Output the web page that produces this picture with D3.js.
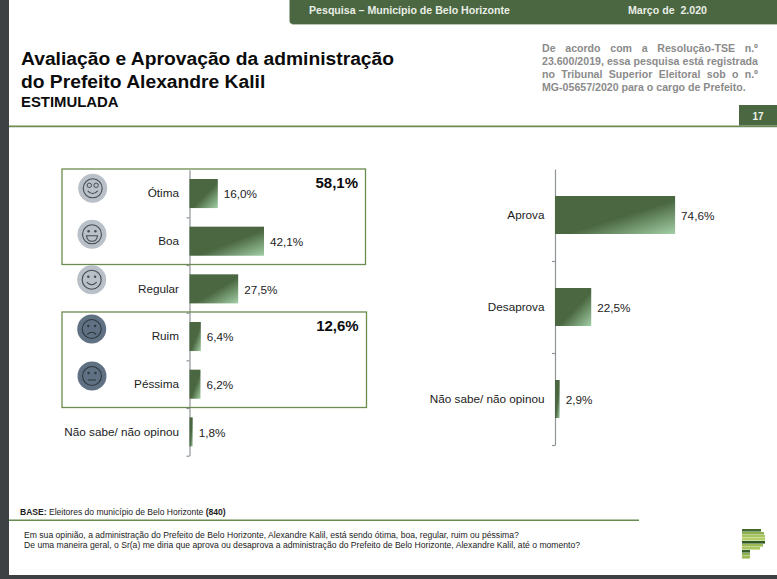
<!DOCTYPE html>
<html><head><meta charset="utf-8">
<script src="https://cdn.jsdelivr.net/npm/d3@7/dist/d3.min.js"></script>
<style>
html,body{margin:0;padding:0;background:#fff}
svg{display:block}
text{font-family:"Liberation Sans",Arial,sans-serif}
</style></head><body>
<svg id="c" width="777" height="579"></svg>
<script>
const leftCategories = ["Ótima","Boa","Regular","Ruim","Péssima","Não sabe/ não opinou"];
const leftValues = [16.0,42.1,27.5,6.4,6.2,1.8];
const rightCategories = ["Aprova","Desaprova","Não sabe/ não opinou"];
const rightValues = [74.6,22.5,2.9];
const totals = ["58,1%","12,6%"];
const titleLines = ["Avaliação e Aprovação da administração","do Prefeito Alexandre Kalil"];
const subtitle = "ESTIMULADA";
const noteLines = ["De acordo com a Resolução-TSE n.º","23.600/2019, essa pesquisa está registrada","no Tribunal Superior Eleitoral sob o n.º","MG-05657/2020 para o cargo de Prefeito."];
const questionLines = ["Em sua opinião, a administração do Prefeito de Belo Horizonte, Alexandre Kalil, está sendo ótima, boa, regular, ruim ou péssima?","De uma maneira geral, o Sr(a) me diria que aprova ou desaprova a administração do Prefeito de Belo Horizonte, Alexandre Kalil, até o momento?"];

const GREEN="#4a6741", LINE="#6b8c4f", AXIS="#8f9499", DARK="#3d4144";
const svg=d3.select("#c");
const fmt=v=>v.toFixed(1).replace(".",",")+"%";

const defs=svg.append("defs");
const g=defs.append("linearGradient").attr("id","bar").attr("x1",0).attr("y1",0).attr("x2",1).attr("y2",1);
g.append("stop").attr("offset","55%").attr("stop-color",GREEN);
g.append("stop").attr("offset","100%").attr("stop-color","#a3cfa6");

// frame
svg.append("rect").attr("x",0).attr("y",0).attr("width",9).attr("height",579).attr("fill",DARK);
svg.append("rect").attr("x",0).attr("y",575).attr("width",777).attr("height",4).attr("fill",DARK);

// header
svg.append("path").attr("d","M289.5 0H777V24H293a3.5 3.5 0 0 1-3.5-3.5Z").attr("fill",GREEN);
svg.append("rect").attr("x",292).attr("y",24).attr("width",485).attr("height",1).attr("fill","#b9c4b0");
const t=(x,y,s,size,opt={})=>svg.append("text").attr("x",x).attr("y",y).attr("font-size",size)
  .attr("font-weight",opt.w||"normal").attr("fill",opt.c||"#1c1c1c").attr("text-anchor",opt.a||"start").text(s);
t(309,14,"Pesquisa – Município de Belo Horizonte",10.62,{w:"bold",c:"#e9eee6"});
t(628,14,"Março de  2.020",10.62,{w:"bold",c:"#e9eee6"}).style("white-space","pre");

// titles
titleLines.forEach((s,i)=>t(21,65+i*23,s,19.25,{w:"bold",c:"#0c0c0c"}));
t(21,107,subtitle,14.9,{w:"bold",c:"#0c0c0c"});

// note, justified
noteLines.forEach((s,i)=>{
  const n=t(542,52+i*13,s,10.6,{w:"bold",c:"#8b8b8b"});
  const len=n.node().getComputedTextLength(), gaps=s.split(" ").length-1;
  if(i<3) n.attr("word-spacing",(216-len)/gaps);
});

// rule + page no
svg.append("rect").attr("x",9).attr("y",125.5).attr("width",768).attr("height",1.5).attr("fill",LINE);
svg.append("rect").attr("x",9).attr("y",127).attr("width",768).attr("height",.8).attr("fill","#d5d8d2");
svg.append("rect").attr("x",739).attr("y",105).attr("width",38).attr("height",20.5).attr("fill",GREEN);
t(758,120,"17",10,{w:"bold",c:"#eef1ea",a:"middle"});

// charts
function chart(cats,vals,ax,top,bottom,perc,pad,labelEnd){
  const y=d3.scaleBand().domain(cats).range([top,bottom]).paddingInner(pad).paddingOuter(pad/2);
  const x=d3.scaleLinear().domain([0,100]).range([ax,ax+perc*100]);
  const yEdge=d3.scaleLinear().domain([0,cats.length]).range([top,bottom]);
  const a=svg.append("g").attr("transform",`translate(${ax},0)`)
    .call(d3.axisLeft(yEdge).tickValues(d3.range(1,cats.length+1)).tickSize(3).tickSizeOuter(0).tickFormat(""));
  a.selectAll("path,line").attr("stroke",AXIS).attr("stroke-width",1.2);
  svg.append("g").selectAll("rect").data(vals).join("rect")
    .attr("x",x(0)).attr("y",(d,i)=>y(cats[i])).attr("height",y.bandwidth())
    .attr("width",d=>x(d)-x(0)).attr("fill","url(#bar)");
  svg.append("g").selectAll("text").data(cats).join("text")
    .attr("x",labelEnd).attr("y",d=>y(d)+y.bandwidth()/2+3.8).attr("text-anchor","end")
    .attr("font-size",11.72).attr("fill","#1c1c1c").text(d=>d);
  svg.append("g").selectAll("text").data(vals).join("text")
    .attr("x",d=>x(d)+6).attr("y",(d,i)=>y(cats[i])+y.bandwidth()/2+4.8).attr("font-size",11.72)
    .attr("fill","#1c1c1c").text(fmt);
  return y;
}
chart(leftCategories,leftValues,189.5,169.7,455.7,1.77,0.39,179);
chart(rightCategories,rightValues,555,169,445,1.61,0.587,544.5);

// boxes
[[62,169,303.5,95.5],[62,312,304.5,95.5]].forEach(b=>svg.append("rect").attr("x",b[0]).attr("y",b[1]).attr("width",b[2]).attr("height",b[3])
  .attr("fill","none").attr("stroke",LINE).attr("stroke-width",1.3));
t(358,187.5,totals[0],15,{w:"bold",c:"#0c0c0c",a:"end"});
t(358.7,331,totals[1],15,{w:"bold",c:"#0c0c0c",a:"end"});

// face icons
const faces=[[92.7,188.3,"#b9c0c8","love"],[92,234.3,"#b9c0c8","grin"],[91.7,279.7,"#b9c0c8","smile"],[91.7,329,"#5f7182","sad"],[92,376,"#5f7182","flat"]];
const mouths={love:"M-5 2.5Q0 8 5 2.5",grin:"M-5.5 1.5H5.5Q5 7 0 7Q-5 7-5.5 1.5Z",smile:"M-5 2.5Q0 7.5 5 2.5",sad:"M-4.5 5.5Q0 1 4.5 5.5",flat:"M-4 4H4"};
faces.forEach(f=>{
  const s=svg.append("g").attr("transform",`translate(${f[0]},${f[1]})`);
  const ink=f[2]==="#b9c0c8"?"#454c52":"#2f3940";
  s.append("circle").attr("r",14.5).attr("fill",f[2]);
  s.append("circle").attr("r",9.5).attr("fill","none").attr("stroke",ink).attr("stroke-width",1.1);
  s.append("path").attr("d",mouths[f[3]]).attr("fill","none").attr("stroke",ink).attr("stroke-width",1.1);
  [-3.4,3.4].forEach(dx=>s.append("circle").attr("cx",dx).attr("cy",-3).attr("r",f[3]==="love"?2.2:1.2)
    .attr("fill",f[3]==="love"?"none":ink).attr("stroke",ink).attr("stroke-width",f[3]==="love"?1:0));
});

// footer
const base=t(20,514.5,"",8.8);
base.append("tspan").attr("font-weight","bold").text("BASE:");
base.append("tspan").text(" Eleitores do município de Belo Horizonte ");
base.append("tspan").attr("font-weight","bold").text("(840)");
base.attr("font-size",8.8*206/base.node().getComputedTextLength());
svg.append("rect").attr("x",9).attr("y",519.5).attr("width",630).attr("height",1.5).attr("fill",LINE);
questionLines.forEach((s,i)=>{
  const q=t(24,538+i*10.3,s,8.8);
  q.attr("font-size",8.8*(i?556:495)/q.node().getComputedTextLength());
});

// logo
const logoBars=[[529,19,"#3f6a2c"],[532,22,"#8fb04f"],[535,23,"#a9c65e"],[538,23,"#b4cf6a"],[541,23,"#2f5a24"],[544,21,"#9dbb55"],[547,18,"#a9c65e"],[550,8,"#35602a"],[553,8,"#8fae50"],[556,8,"#9dbb55"]];
svg.append("g").selectAll("rect").data(logoBars).join("rect").attr("x",742).attr("y",d=>d[0]).attr("width",d=>d[1]).attr("height",2.6).attr("fill",d=>d[2]);
</script>
</body></html>
